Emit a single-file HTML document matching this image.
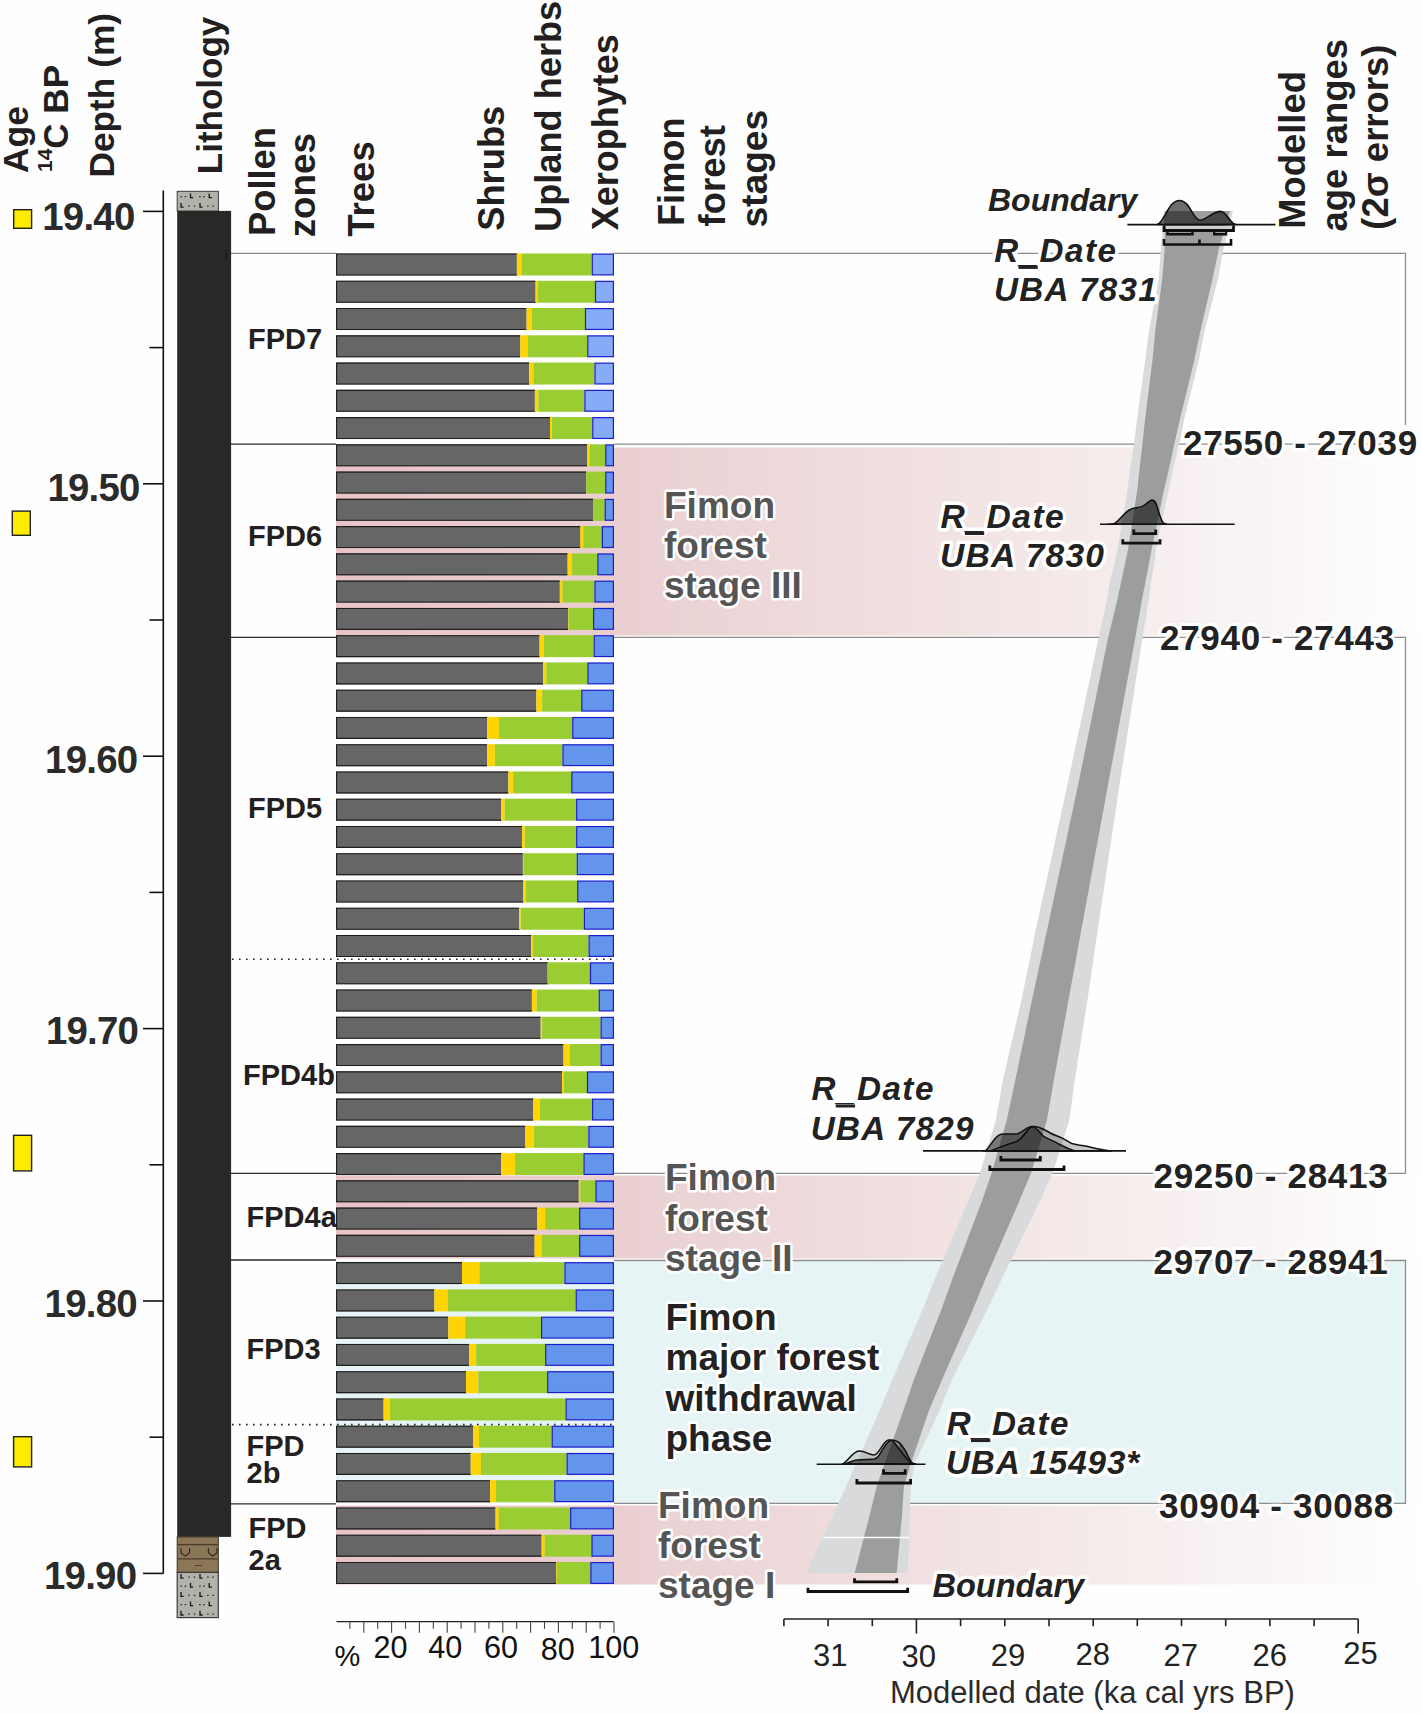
<!DOCTYPE html><html><head><meta charset="utf-8"><title>Fimon pollen diagram</title>
<style>html,body{margin:0;padding:0;background:#fff;}svg{display:block;}text{font-family:"Liberation Sans", sans-serif;}</style></head><body>
<svg width="1422" height="1713" viewBox="0 0 1422 1713">
<defs><linearGradient id="pk" gradientUnits="userSpaceOnUse" x1="336" y1="0" x2="1422" y2="0"><stop offset="0" stop-color="#e9c3c8"/><stop offset="0.26" stop-color="#eacfd1"/><stop offset="0.61" stop-color="#f3e5e5"/><stop offset="0.80" stop-color="#f8f1f1"/><stop offset="0.89" stop-color="#fbf7f7"/><stop offset="0.98" stop-color="#fefdfd"/><stop offset="1" stop-color="#ffffff"/></linearGradient></defs>
<rect x="0" y="0" width="1422" height="1713" fill="#fefefe"/>
<rect x="336" y="447.5" width="1086" height="188" fill="url(#pk)"/>
<rect x="336" y="1175.5" width="1086" height="83" fill="url(#pk)"/>
<rect x="336" y="1261.5" width="1069" height="241.5" fill="#e6f4f5"/>
<rect x="336" y="1505.5" width="1086" height="79" fill="url(#pk)"/>
<line x1="231" y1="253.4" x2="336" y2="253.4" stroke="#8a8a8a" stroke-width="1.3"/>
<line x1="231" y1="444.2" x2="336" y2="444.2" stroke="#2a2a2a" stroke-width="1.3"/>
<line x1="231" y1="637.3" x2="336" y2="637.3" stroke="#2a2a2a" stroke-width="1.3"/>
<line x1="231" y1="1173.4" x2="336" y2="1173.4" stroke="#2a2a2a" stroke-width="1.3"/>
<line x1="231" y1="1260.0" x2="336" y2="1260.0" stroke="#2a2a2a" stroke-width="1.3"/>
<line x1="231" y1="1503.8" x2="336" y2="1503.8" stroke="#2a2a2a" stroke-width="1.3"/>
<polyline points="614,253.4 1405.5,253.4 1405.5,425" fill="none" stroke="#8c8c8c" stroke-width="1.3"/>
<line x1="614" y1="444.2" x2="1405" y2="444.2" stroke="#8c8c8c" stroke-width="1.3"/>
<polyline points="614,637.3 1405.5,637.3 1405.5,1173.4 614,1173.4" fill="none" stroke="#8c8c8c" stroke-width="1.3"/>
<polyline points="614,1260.5 1405.5,1260.5 1405.5,1503.3 614,1503.3" fill="none" stroke="#8c8c8c" stroke-width="1.3"/>
<line x1="232" y1="959.3" x2="612" y2="959.3" stroke="#222" stroke-width="1.6" stroke-dasharray="1.6,5.4"/>
<line x1="232" y1="1424.6" x2="612" y2="1424.6" stroke="#222" stroke-width="1.6" stroke-dasharray="1.6,5.4"/>
<rect x="336.0" y="253.50" width="180.9" height="22.0" fill="#666"/>
<path d="M516.9,254.05 H336.6 V274.95 H516.9" fill="none" stroke="#1e1e1e" stroke-width="1.1"/>
<rect x="516.9" y="253.50" width="4.5" height="22.0" fill="#ffd400"/>
<rect x="521.4" y="253.50" width="70.4" height="22.0" fill="#9acd32"/>
<rect x="592.3" y="254.10" width="21.1" height="20.8" fill="#86acf8" stroke="#1c1ccc" stroke-width="1.2"/>
<rect x="336.0" y="280.76" width="199.6" height="22.0" fill="#666"/>
<path d="M535.6,281.31 H336.6 V302.21 H535.6" fill="none" stroke="#1e1e1e" stroke-width="1.1"/>
<rect x="535.6" y="280.76" width="2.2" height="22.0" fill="#ffd400"/>
<rect x="537.8" y="280.76" width="57.2" height="22.0" fill="#9acd32"/>
<rect x="595.5" y="281.36" width="17.9" height="20.8" fill="#86acf8" stroke="#1c1ccc" stroke-width="1.2"/>
<rect x="336.0" y="308.02" width="190.6" height="22.0" fill="#666"/>
<path d="M526.6,308.57 H336.6 V329.47 H526.6" fill="none" stroke="#1e1e1e" stroke-width="1.1"/>
<rect x="526.6" y="308.02" width="5.4" height="22.0" fill="#ffd400"/>
<rect x="532.0" y="308.02" width="53.0" height="22.0" fill="#9acd32"/>
<rect x="585.5" y="308.62" width="27.9" height="20.8" fill="#86acf8" stroke="#1c1ccc" stroke-width="1.2"/>
<rect x="336.0" y="335.28" width="184.3" height="22.0" fill="#666"/>
<path d="M520.3,335.83 H336.6 V356.73 H520.3" fill="none" stroke="#1e1e1e" stroke-width="1.1"/>
<rect x="520.3" y="335.28" width="7.2" height="22.0" fill="#ffd400"/>
<rect x="527.5" y="335.28" width="59.8" height="22.0" fill="#9acd32"/>
<rect x="587.8" y="335.88" width="25.6" height="20.8" fill="#86acf8" stroke="#1c1ccc" stroke-width="1.2"/>
<rect x="336.0" y="362.54" width="193.3" height="22.0" fill="#666"/>
<path d="M529.3,363.09 H336.6 V383.99 H529.3" fill="none" stroke="#1e1e1e" stroke-width="1.1"/>
<rect x="529.3" y="362.54" width="4.0" height="22.0" fill="#ffd400"/>
<rect x="533.3" y="362.54" width="61.2" height="22.0" fill="#9acd32"/>
<rect x="595.0" y="363.14" width="18.4" height="20.8" fill="#86acf8" stroke="#1c1ccc" stroke-width="1.2"/>
<rect x="336.0" y="389.80" width="198.9" height="22.0" fill="#666"/>
<path d="M534.9,390.35 H336.6 V411.25 H534.9" fill="none" stroke="#1e1e1e" stroke-width="1.1"/>
<rect x="534.9" y="389.80" width="3.4" height="22.0" fill="#ffd400"/>
<rect x="538.3" y="389.80" width="46.1" height="22.0" fill="#9acd32"/>
<rect x="584.9" y="390.40" width="28.5" height="20.8" fill="#86acf8" stroke="#1c1ccc" stroke-width="1.2"/>
<rect x="336.0" y="417.06" width="214.0" height="22.0" fill="#666"/>
<path d="M550.0,417.61 H336.6 V438.51 H550.0" fill="none" stroke="#1e1e1e" stroke-width="1.1"/>
<rect x="550.0" y="417.06" width="1.8" height="22.0" fill="#ffd400"/>
<rect x="551.8" y="417.06" width="40.5" height="22.0" fill="#9acd32"/>
<rect x="592.8" y="417.66" width="20.6" height="20.8" fill="#86acf8" stroke="#1c1ccc" stroke-width="1.2"/>
<rect x="336.0" y="444.32" width="251.0" height="22.0" fill="#666"/>
<path d="M587.0,444.87 H336.6 V465.77 H587.0" fill="none" stroke="#1e1e1e" stroke-width="1.1"/>
<rect x="587.0" y="444.32" width="2.6" height="22.0" fill="#ffd400"/>
<rect x="589.6" y="444.32" width="15.7" height="22.0" fill="#9acd32"/>
<rect x="605.8" y="444.92" width="7.6" height="20.8" fill="#6495ed" stroke="#1c1ccc" stroke-width="1.2"/>
<rect x="336.0" y="471.58" width="250.0" height="22.0" fill="#666"/>
<path d="M586.0,472.13 H336.6 V493.03 H586.0" fill="none" stroke="#1e1e1e" stroke-width="1.1"/>
<rect x="586.2" y="471.58" width="19.1" height="22.0" fill="#9acd32"/>
<rect x="605.8" y="472.18" width="7.6" height="20.8" fill="#6495ed" stroke="#1c1ccc" stroke-width="1.2"/>
<rect x="336.0" y="498.84" width="257.1" height="22.0" fill="#666"/>
<path d="M593.1,499.39 H336.6 V520.29 H593.1" fill="none" stroke="#1e1e1e" stroke-width="1.1"/>
<rect x="593.1" y="498.84" width="11.6" height="22.0" fill="#9acd32"/>
<rect x="605.2" y="499.44" width="8.2" height="20.8" fill="#6495ed" stroke="#1c1ccc" stroke-width="1.2"/>
<rect x="336.0" y="526.10" width="244.4" height="22.0" fill="#666"/>
<path d="M580.4,526.65 H336.6 V547.55 H580.4" fill="none" stroke="#1e1e1e" stroke-width="1.1"/>
<rect x="580.4" y="526.10" width="3.1" height="22.0" fill="#ffd400"/>
<rect x="583.5" y="526.10" width="18.4" height="22.0" fill="#9acd32"/>
<rect x="602.4" y="526.70" width="11.0" height="20.8" fill="#6495ed" stroke="#1c1ccc" stroke-width="1.2"/>
<rect x="336.0" y="553.36" width="231.6" height="22.0" fill="#666"/>
<path d="M567.6,553.91 H336.6 V574.81 H567.6" fill="none" stroke="#1e1e1e" stroke-width="1.1"/>
<rect x="567.6" y="553.36" width="4.5" height="22.0" fill="#ffd400"/>
<rect x="572.1" y="553.36" width="25.3" height="22.0" fill="#9acd32"/>
<rect x="597.9" y="553.96" width="15.5" height="20.8" fill="#6495ed" stroke="#1c1ccc" stroke-width="1.2"/>
<rect x="336.0" y="580.62" width="223.8" height="22.0" fill="#666"/>
<path d="M559.8,581.17 H336.6 V602.07 H559.8" fill="none" stroke="#1e1e1e" stroke-width="1.1"/>
<rect x="559.8" y="580.62" width="2.7" height="22.0" fill="#ffd400"/>
<rect x="562.5" y="580.62" width="32.0" height="22.0" fill="#9acd32"/>
<rect x="595.0" y="581.22" width="18.4" height="20.8" fill="#6495ed" stroke="#1c1ccc" stroke-width="1.2"/>
<rect x="336.0" y="607.88" width="232.0" height="22.0" fill="#666"/>
<path d="M568.0,608.43 H336.6 V629.33 H568.0" fill="none" stroke="#1e1e1e" stroke-width="1.1"/>
<rect x="568.0" y="607.88" width="0.6" height="22.0" fill="#ffd400"/>
<rect x="568.6" y="607.88" width="24.5" height="22.0" fill="#9acd32"/>
<rect x="593.6" y="608.48" width="19.8" height="20.8" fill="#6495ed" stroke="#1c1ccc" stroke-width="1.2"/>
<rect x="336.0" y="635.14" width="203.6" height="22.0" fill="#666"/>
<path d="M539.6,635.69 H336.6 V656.59 H539.6" fill="none" stroke="#1e1e1e" stroke-width="1.1"/>
<rect x="539.6" y="635.14" width="4.1" height="22.0" fill="#ffd400"/>
<rect x="543.7" y="635.14" width="50.0" height="22.0" fill="#9acd32"/>
<rect x="594.2" y="635.74" width="19.2" height="20.8" fill="#6495ed" stroke="#1c1ccc" stroke-width="1.2"/>
<rect x="336.0" y="662.40" width="207.1" height="22.0" fill="#666"/>
<path d="M543.1,662.95 H336.6 V683.85 H543.1" fill="none" stroke="#1e1e1e" stroke-width="1.1"/>
<rect x="543.1" y="662.40" width="3.1" height="22.0" fill="#ffd400"/>
<rect x="546.2" y="662.40" width="41.2" height="22.0" fill="#9acd32"/>
<rect x="587.9" y="663.00" width="25.5" height="20.8" fill="#6495ed" stroke="#1c1ccc" stroke-width="1.2"/>
<rect x="336.0" y="689.66" width="200.4" height="22.0" fill="#666"/>
<path d="M536.4,690.21 H336.6 V711.11 H536.4" fill="none" stroke="#1e1e1e" stroke-width="1.1"/>
<rect x="536.4" y="689.66" width="5.7" height="22.0" fill="#ffd400"/>
<rect x="542.1" y="689.66" width="39.2" height="22.0" fill="#9acd32"/>
<rect x="581.8" y="690.26" width="31.6" height="20.8" fill="#6495ed" stroke="#1c1ccc" stroke-width="1.2"/>
<rect x="336.0" y="716.92" width="151.0" height="22.0" fill="#666"/>
<path d="M487.0,717.47 H336.6 V738.37 H487.0" fill="none" stroke="#1e1e1e" stroke-width="1.1"/>
<rect x="487.0" y="716.92" width="11.9" height="22.0" fill="#ffd400"/>
<rect x="498.9" y="716.92" width="73.4" height="22.0" fill="#9acd32"/>
<rect x="572.8" y="717.52" width="40.6" height="20.8" fill="#6495ed" stroke="#1c1ccc" stroke-width="1.2"/>
<rect x="336.0" y="744.18" width="151.0" height="22.0" fill="#666"/>
<path d="M487.0,744.73 H336.6 V765.63 H487.0" fill="none" stroke="#1e1e1e" stroke-width="1.1"/>
<rect x="487.0" y="744.18" width="7.8" height="22.0" fill="#ffd400"/>
<rect x="494.8" y="744.18" width="67.7" height="22.0" fill="#9acd32"/>
<rect x="563.0" y="744.78" width="50.4" height="20.8" fill="#6495ed" stroke="#1c1ccc" stroke-width="1.2"/>
<rect x="336.0" y="771.44" width="172.4" height="22.0" fill="#666"/>
<path d="M508.4,771.99 H336.6 V792.89 H508.4" fill="none" stroke="#1e1e1e" stroke-width="1.1"/>
<rect x="508.4" y="771.44" width="4.7" height="22.0" fill="#ffd400"/>
<rect x="513.1" y="771.44" width="58.2" height="22.0" fill="#9acd32"/>
<rect x="571.8" y="772.04" width="41.6" height="20.8" fill="#6495ed" stroke="#1c1ccc" stroke-width="1.2"/>
<rect x="336.0" y="798.70" width="165.3" height="22.0" fill="#666"/>
<path d="M501.3,799.25 H336.6 V820.15 H501.3" fill="none" stroke="#1e1e1e" stroke-width="1.1"/>
<rect x="501.3" y="798.70" width="3.3" height="22.0" fill="#ffd400"/>
<rect x="504.6" y="798.70" width="71.6" height="22.0" fill="#9acd32"/>
<rect x="576.7" y="799.30" width="36.7" height="20.8" fill="#6495ed" stroke="#1c1ccc" stroke-width="1.2"/>
<rect x="336.0" y="825.96" width="186.1" height="22.0" fill="#666"/>
<path d="M522.1,826.51 H336.6 V847.41 H522.1" fill="none" stroke="#1e1e1e" stroke-width="1.1"/>
<rect x="522.1" y="825.96" width="2.7" height="22.0" fill="#ffd400"/>
<rect x="524.8" y="825.96" width="51.4" height="22.0" fill="#9acd32"/>
<rect x="576.7" y="826.56" width="36.7" height="20.8" fill="#6495ed" stroke="#1c1ccc" stroke-width="1.2"/>
<rect x="336.0" y="853.22" width="186.9" height="22.0" fill="#666"/>
<path d="M522.9,853.77 H336.6 V874.67 H522.9" fill="none" stroke="#1e1e1e" stroke-width="1.1"/>
<rect x="522.9" y="853.22" width="0.4" height="22.0" fill="#ffd400"/>
<rect x="523.3" y="853.22" width="53.5" height="22.0" fill="#9acd32"/>
<rect x="577.3" y="853.82" width="36.1" height="20.8" fill="#6495ed" stroke="#1c1ccc" stroke-width="1.2"/>
<rect x="336.0" y="880.48" width="187.3" height="22.0" fill="#666"/>
<path d="M523.3,881.03 H336.6 V901.93 H523.3" fill="none" stroke="#1e1e1e" stroke-width="1.1"/>
<rect x="523.3" y="880.48" width="2.5" height="22.0" fill="#ffd400"/>
<rect x="525.8" y="880.48" width="51.4" height="22.0" fill="#9acd32"/>
<rect x="577.7" y="881.08" width="35.7" height="20.8" fill="#6495ed" stroke="#1c1ccc" stroke-width="1.2"/>
<rect x="336.0" y="907.74" width="183.3" height="22.0" fill="#666"/>
<path d="M519.3,908.29 H336.6 V929.19 H519.3" fill="none" stroke="#1e1e1e" stroke-width="1.1"/>
<rect x="519.3" y="907.74" width="1.4" height="22.0" fill="#ffd400"/>
<rect x="520.7" y="907.74" width="63.2" height="22.0" fill="#9acd32"/>
<rect x="584.4" y="908.34" width="29.0" height="20.8" fill="#6495ed" stroke="#1c1ccc" stroke-width="1.2"/>
<rect x="336.0" y="935.00" width="195.3" height="22.0" fill="#666"/>
<path d="M531.3,935.55 H336.6 V956.45 H531.3" fill="none" stroke="#1e1e1e" stroke-width="1.1"/>
<rect x="531.3" y="935.00" width="1.6" height="22.0" fill="#ffd400"/>
<rect x="532.9" y="935.00" width="55.7" height="22.0" fill="#9acd32"/>
<rect x="589.1" y="935.60" width="24.3" height="20.8" fill="#6495ed" stroke="#1c1ccc" stroke-width="1.2"/>
<rect x="336.0" y="962.26" width="211.6" height="22.0" fill="#666"/>
<path d="M547.6,962.81 H336.6 V983.71 H547.6" fill="none" stroke="#1e1e1e" stroke-width="1.1"/>
<rect x="547.8" y="962.26" width="42.2" height="22.0" fill="#9acd32"/>
<rect x="590.5" y="962.86" width="22.9" height="20.8" fill="#6495ed" stroke="#1c1ccc" stroke-width="1.2"/>
<rect x="336.0" y="989.52" width="195.9" height="22.0" fill="#666"/>
<path d="M531.9,990.07 H336.6 V1010.97 H531.9" fill="none" stroke="#1e1e1e" stroke-width="1.1"/>
<rect x="531.9" y="989.52" width="4.7" height="22.0" fill="#ffd400"/>
<rect x="536.6" y="989.52" width="62.2" height="22.0" fill="#9acd32"/>
<rect x="599.3" y="990.12" width="14.1" height="20.8" fill="#6495ed" stroke="#1c1ccc" stroke-width="1.2"/>
<rect x="336.0" y="1016.78" width="204.7" height="22.0" fill="#666"/>
<path d="M540.7,1017.33 H336.6 V1038.23 H540.7" fill="none" stroke="#1e1e1e" stroke-width="1.1"/>
<rect x="540.7" y="1016.78" width="1.4" height="22.0" fill="#ffd400"/>
<rect x="542.1" y="1016.78" width="58.5" height="22.0" fill="#9acd32"/>
<rect x="601.1" y="1017.38" width="12.3" height="20.8" fill="#6495ed" stroke="#1c1ccc" stroke-width="1.2"/>
<rect x="336.0" y="1044.04" width="227.5" height="22.0" fill="#666"/>
<path d="M563.5,1044.59 H336.6 V1065.49 H563.5" fill="none" stroke="#1e1e1e" stroke-width="1.1"/>
<rect x="563.5" y="1044.04" width="6.1" height="22.0" fill="#ffd400"/>
<rect x="569.6" y="1044.04" width="31.0" height="22.0" fill="#9acd32"/>
<rect x="601.1" y="1044.64" width="12.3" height="20.8" fill="#6495ed" stroke="#1c1ccc" stroke-width="1.2"/>
<rect x="336.0" y="1071.30" width="226.1" height="22.0" fill="#666"/>
<path d="M562.1,1071.85 H336.6 V1092.75 H562.1" fill="none" stroke="#1e1e1e" stroke-width="1.1"/>
<rect x="562.1" y="1071.30" width="1.4" height="22.0" fill="#ffd400"/>
<rect x="563.5" y="1071.30" width="23.5" height="22.0" fill="#9acd32"/>
<rect x="587.5" y="1071.90" width="25.9" height="20.8" fill="#6495ed" stroke="#1c1ccc" stroke-width="1.2"/>
<rect x="336.0" y="1098.56" width="197.3" height="22.0" fill="#666"/>
<path d="M533.3,1099.11 H336.6 V1120.01 H533.3" fill="none" stroke="#1e1e1e" stroke-width="1.1"/>
<rect x="533.3" y="1098.56" width="6.7" height="22.0" fill="#ffd400"/>
<rect x="540.0" y="1098.56" width="52.1" height="22.0" fill="#9acd32"/>
<rect x="592.6" y="1099.16" width="20.8" height="20.8" fill="#6495ed" stroke="#1c1ccc" stroke-width="1.2"/>
<rect x="336.0" y="1125.82" width="189.4" height="22.0" fill="#666"/>
<path d="M525.4,1126.37 H336.6 V1147.27 H525.4" fill="none" stroke="#1e1e1e" stroke-width="1.1"/>
<rect x="525.4" y="1125.82" width="8.5" height="22.0" fill="#ffd400"/>
<rect x="533.9" y="1125.82" width="54.5" height="22.0" fill="#9acd32"/>
<rect x="588.9" y="1126.42" width="24.5" height="20.8" fill="#6495ed" stroke="#1c1ccc" stroke-width="1.2"/>
<rect x="336.0" y="1153.08" width="165.3" height="22.0" fill="#666"/>
<path d="M501.3,1153.63 H336.6 V1174.53 H501.3" fill="none" stroke="#1e1e1e" stroke-width="1.1"/>
<rect x="501.3" y="1153.08" width="13.7" height="22.0" fill="#ffd400"/>
<rect x="515.0" y="1153.08" width="68.5" height="22.0" fill="#9acd32"/>
<rect x="584.0" y="1153.68" width="29.4" height="20.8" fill="#6495ed" stroke="#1c1ccc" stroke-width="1.2"/>
<rect x="336.0" y="1180.34" width="242.8" height="22.0" fill="#666"/>
<path d="M578.8,1180.89 H336.6 V1201.79 H578.8" fill="none" stroke="#1e1e1e" stroke-width="1.1"/>
<rect x="578.8" y="1180.34" width="1.6" height="22.0" fill="#ffd400"/>
<rect x="580.4" y="1180.34" width="15.1" height="22.0" fill="#9acd32"/>
<rect x="596.0" y="1180.94" width="17.4" height="20.8" fill="#6495ed" stroke="#1c1ccc" stroke-width="1.2"/>
<rect x="336.0" y="1207.60" width="201.0" height="22.0" fill="#666"/>
<path d="M537.0,1208.15 H336.6 V1229.05 H537.0" fill="none" stroke="#1e1e1e" stroke-width="1.1"/>
<rect x="537.0" y="1207.60" width="8.2" height="22.0" fill="#ffd400"/>
<rect x="545.2" y="1207.60" width="34.0" height="22.0" fill="#9acd32"/>
<rect x="579.7" y="1208.20" width="33.7" height="20.8" fill="#6495ed" stroke="#1c1ccc" stroke-width="1.2"/>
<rect x="336.0" y="1234.86" width="198.6" height="22.0" fill="#666"/>
<path d="M534.6,1235.41 H336.6 V1256.31 H534.6" fill="none" stroke="#1e1e1e" stroke-width="1.1"/>
<rect x="534.6" y="1234.86" width="7.1" height="22.0" fill="#ffd400"/>
<rect x="541.7" y="1234.86" width="37.5" height="22.0" fill="#9acd32"/>
<rect x="579.7" y="1235.46" width="33.7" height="20.8" fill="#6495ed" stroke="#1c1ccc" stroke-width="1.2"/>
<rect x="336.0" y="1262.12" width="126.0" height="22.0" fill="#666"/>
<path d="M462.0,1262.67 H336.6 V1283.57 H462.0" fill="none" stroke="#1e1e1e" stroke-width="1.1"/>
<rect x="462.0" y="1262.12" width="17.3" height="22.0" fill="#ffd400"/>
<rect x="479.3" y="1262.12" width="85.2" height="22.0" fill="#9acd32"/>
<rect x="565.0" y="1262.72" width="48.4" height="20.8" fill="#6495ed" stroke="#1c1ccc" stroke-width="1.2"/>
<rect x="336.0" y="1289.38" width="98.4" height="22.0" fill="#666"/>
<path d="M434.4,1289.93 H336.6 V1310.83 H434.4" fill="none" stroke="#1e1e1e" stroke-width="1.1"/>
<rect x="434.4" y="1289.38" width="13.3" height="22.0" fill="#ffd400"/>
<rect x="447.7" y="1289.38" width="128.0" height="22.0" fill="#9acd32"/>
<rect x="576.2" y="1289.98" width="37.2" height="20.8" fill="#6495ed" stroke="#1c1ccc" stroke-width="1.2"/>
<rect x="336.0" y="1316.64" width="112.3" height="22.0" fill="#666"/>
<path d="M448.3,1317.19 H336.6 V1338.09 H448.3" fill="none" stroke="#1e1e1e" stroke-width="1.1"/>
<rect x="448.3" y="1316.64" width="16.9" height="22.0" fill="#ffd400"/>
<rect x="465.2" y="1316.64" width="75.9" height="22.0" fill="#9acd32"/>
<rect x="541.6" y="1317.24" width="71.8" height="20.8" fill="#6495ed" stroke="#1c1ccc" stroke-width="1.2"/>
<rect x="336.0" y="1343.90" width="133.1" height="22.0" fill="#666"/>
<path d="M469.1,1344.45 H336.6 V1365.35 H469.1" fill="none" stroke="#1e1e1e" stroke-width="1.1"/>
<rect x="469.1" y="1343.90" width="7.1" height="22.0" fill="#ffd400"/>
<rect x="476.2" y="1343.90" width="69.0" height="22.0" fill="#9acd32"/>
<rect x="545.7" y="1344.50" width="67.7" height="20.8" fill="#6495ed" stroke="#1c1ccc" stroke-width="1.2"/>
<rect x="336.0" y="1371.16" width="130.0" height="22.0" fill="#666"/>
<path d="M466.0,1371.71 H336.6 V1392.61 H466.0" fill="none" stroke="#1e1e1e" stroke-width="1.1"/>
<rect x="466.0" y="1371.16" width="12.3" height="22.0" fill="#ffd400"/>
<rect x="478.3" y="1371.16" width="68.9" height="22.0" fill="#9acd32"/>
<rect x="547.7" y="1371.76" width="65.7" height="20.8" fill="#6495ed" stroke="#1c1ccc" stroke-width="1.2"/>
<rect x="336.0" y="1398.42" width="47.6" height="22.0" fill="#666"/>
<path d="M383.6,1398.97 H336.6 V1419.87 H383.6" fill="none" stroke="#1e1e1e" stroke-width="1.1"/>
<rect x="383.6" y="1398.42" width="6.2" height="22.0" fill="#ffd400"/>
<rect x="389.8" y="1398.42" width="175.8" height="22.0" fill="#9acd32"/>
<rect x="566.1" y="1399.02" width="47.3" height="20.8" fill="#6495ed" stroke="#1c1ccc" stroke-width="1.2"/>
<rect x="336.0" y="1425.68" width="137.2" height="22.0" fill="#666"/>
<path d="M473.2,1426.23 H336.6 V1447.13 H473.2" fill="none" stroke="#1e1e1e" stroke-width="1.1"/>
<rect x="473.2" y="1425.68" width="5.7" height="22.0" fill="#ffd400"/>
<rect x="478.9" y="1425.68" width="72.8" height="22.0" fill="#9acd32"/>
<rect x="552.2" y="1426.28" width="61.2" height="20.8" fill="#6495ed" stroke="#1c1ccc" stroke-width="1.2"/>
<rect x="336.0" y="1452.94" width="134.7" height="22.0" fill="#666"/>
<path d="M470.7,1453.49 H336.6 V1474.39 H470.7" fill="none" stroke="#1e1e1e" stroke-width="1.1"/>
<rect x="470.7" y="1452.94" width="10.2" height="22.0" fill="#ffd400"/>
<rect x="480.9" y="1452.94" width="85.7" height="22.0" fill="#9acd32"/>
<rect x="567.1" y="1453.54" width="46.3" height="20.8" fill="#6495ed" stroke="#1c1ccc" stroke-width="1.2"/>
<rect x="336.0" y="1480.20" width="154.1" height="22.0" fill="#666"/>
<path d="M490.1,1480.75 H336.6 V1501.65 H490.1" fill="none" stroke="#1e1e1e" stroke-width="1.1"/>
<rect x="490.1" y="1480.20" width="5.7" height="22.0" fill="#ffd400"/>
<rect x="495.8" y="1480.20" width="58.5" height="22.0" fill="#9acd32"/>
<rect x="554.8" y="1480.80" width="58.6" height="20.8" fill="#6495ed" stroke="#1c1ccc" stroke-width="1.2"/>
<rect x="336.0" y="1507.46" width="159.5" height="22.0" fill="#666"/>
<path d="M495.5,1508.01 H336.6 V1528.91 H495.5" fill="none" stroke="#1e1e1e" stroke-width="1.1"/>
<rect x="495.5" y="1507.46" width="3.2" height="22.0" fill="#ffd400"/>
<rect x="498.7" y="1507.46" width="71.5" height="22.0" fill="#9acd32"/>
<rect x="570.7" y="1508.06" width="42.7" height="20.8" fill="#6495ed" stroke="#1c1ccc" stroke-width="1.2"/>
<rect x="336.0" y="1534.72" width="205.6" height="22.0" fill="#666"/>
<path d="M541.6,1535.27 H336.6 V1556.17 H541.6" fill="none" stroke="#1e1e1e" stroke-width="1.1"/>
<rect x="541.6" y="1534.72" width="3.1" height="22.0" fill="#ffd400"/>
<rect x="544.7" y="1534.72" width="46.8" height="22.0" fill="#9acd32"/>
<rect x="592.0" y="1535.32" width="21.4" height="20.8" fill="#6495ed" stroke="#1c1ccc" stroke-width="1.2"/>
<rect x="336.0" y="1561.98" width="220.3" height="22.0" fill="#666"/>
<path d="M556.3,1562.53 H336.6 V1583.43 H556.3" fill="none" stroke="#1e1e1e" stroke-width="1.1"/>
<rect x="556.3" y="1561.98" width="0.7" height="22.0" fill="#ffd400"/>
<rect x="557.0" y="1561.98" width="33.4" height="22.0" fill="#9acd32"/>
<rect x="590.9" y="1562.58" width="22.5" height="20.8" fill="#6495ed" stroke="#1c1ccc" stroke-width="1.2"/>
<rect x="177.2" y="191.3" width="41.2" height="19.8" fill="#b2b2aa" stroke="#3a3a3a" stroke-width="1"/>
<rect x="177.2" y="210.9" width="53.9" height="1326" fill="#2a2826"/>
<rect x="177.2" y="1536.9" width="41.1" height="35.5" fill="#8b7658" stroke="#3a3226" stroke-width="1"/>
<line x1="177.5" y1="1544.7" x2="218" y2="1544.7" stroke="#4a3c2a" stroke-width="1.3"/>
<line x1="177.5" y1="1558.8" x2="218" y2="1558.8" stroke="#4a3c2a" stroke-width="1.3"/>
<path d="M181,1548.3 v4.5 l4.3,3.3 l4.3,-3.3 v-4.5 M208.4,1548.3 v4.5 l4.3,3.3 l4.3,-3.3 v-4.5" fill="none" stroke="#2a2218" stroke-width="1.1"/>
<line x1="195" y1="1565.5" x2="202" y2="1565.5" stroke="#4a3c2a" stroke-width="1"/>
<rect x="177.2" y="1572.4" width="41.1" height="45.2" fill="#b2b2aa" stroke="#3a3a3a" stroke-width="1.2"/>
<path d="M190.5,193.4 v4.2 h2.6 M209.2,193.4 v4.2 h2.6 M181.0,202.9 v4.2 h2.6 M200.0,202.9 v4.2 h2.6" fill="none" stroke="#151515" stroke-width="1.3"/><path d="M180.6,196.7 h1.4 M184.7,196.7 h1.4 M199.2,196.7 h1.4 M203.3,196.7 h1.4 M188.3,206.2 h1.4 M193.8,206.2 h1.4 M207.2,206.2 h1.4 M212.4,206.2 h1.4" fill="none" stroke="#222" stroke-width="1.3"/>
<path d="M181.0,1573.9 v4.2 h2.6 M200.0,1573.9 v4.2 h2.6 M190.5,1582.9 v4.2 h2.6 M209.2,1582.9 v4.2 h2.6 M181.0,1592.1 v4.2 h2.6 M200.0,1592.1 v4.2 h2.6 M190.5,1601.4 v4.2 h2.6 M209.2,1601.4 v4.2 h2.6 M181.0,1610.8 v4.2 h2.6 M200.0,1610.8 v4.2 h2.6" fill="none" stroke="#151515" stroke-width="1.3"/><path d="M188.3,1577.2 h1.4 M193.8,1577.2 h1.4 M207.2,1577.2 h1.4 M212.4,1577.2 h1.4 M180.6,1586.2 h1.4 M184.7,1586.2 h1.4 M199.2,1586.2 h1.4 M203.3,1586.2 h1.4 M188.3,1595.4 h1.4 M193.8,1595.4 h1.4 M207.2,1595.4 h1.4 M212.4,1595.4 h1.4 M180.6,1604.7 h1.4 M184.7,1604.7 h1.4 M199.2,1604.7 h1.4 M203.3,1604.7 h1.4 M188.3,1614.1 h1.4 M193.8,1614.1 h1.4 M207.2,1614.1 h1.4 M212.4,1614.1 h1.4" fill="none" stroke="#222" stroke-width="1.3"/>
<line x1="226.5" y1="253" x2="226.5" y2="259" stroke="#111" stroke-width="1"/>
<line x1="163.3" y1="190.5" x2="163.3" y2="1573.5" stroke="#111" stroke-width="1.6"/>
<line x1="143.0" y1="211.4" x2="163.3" y2="211.4" stroke="#111" stroke-width="1.6"/>
<line x1="149.5" y1="347.6" x2="163.3" y2="347.6" stroke="#111" stroke-width="1.6"/>
<line x1="143.0" y1="483.8" x2="163.3" y2="483.8" stroke="#111" stroke-width="1.6"/>
<line x1="149.5" y1="620.0" x2="163.3" y2="620.0" stroke="#111" stroke-width="1.6"/>
<line x1="143.0" y1="756.2" x2="163.3" y2="756.2" stroke="#111" stroke-width="1.6"/>
<line x1="149.5" y1="892.4" x2="163.3" y2="892.4" stroke="#111" stroke-width="1.6"/>
<line x1="143.0" y1="1028.6" x2="163.3" y2="1028.6" stroke="#111" stroke-width="1.6"/>
<line x1="149.5" y1="1164.8" x2="163.3" y2="1164.8" stroke="#111" stroke-width="1.6"/>
<line x1="143.0" y1="1301.0" x2="163.3" y2="1301.0" stroke="#111" stroke-width="1.6"/>
<line x1="149.5" y1="1437.2" x2="163.3" y2="1437.2" stroke="#111" stroke-width="1.6"/>
<line x1="143.0" y1="1573.4" x2="163.3" y2="1573.4" stroke="#111" stroke-width="1.6"/>
<text x="42.2" y="229.5" font-size="38.4" font-weight="bold" letter-spacing="-0.75" fill="#2b2b2b">19.40</text>
<text x="47.4" y="500.9" font-size="38.4" font-weight="bold" letter-spacing="-0.75" fill="#2b2b2b">19.50</text>
<text x="45.1" y="773.4" font-size="38.4" font-weight="bold" letter-spacing="-0.75" fill="#2b2b2b">19.60</text>
<text x="45.9" y="1044.3" font-size="38.4" font-weight="bold" letter-spacing="-0.75" fill="#2b2b2b">19.70</text>
<text x="44.6" y="1317.1" font-size="38.4" font-weight="bold" letter-spacing="-0.75" fill="#2b2b2b">19.80</text>
<text x="44.0" y="1588.5" font-size="38.4" font-weight="bold" letter-spacing="-0.75" fill="#2b2b2b">19.90</text>
<rect x="13.7" y="209.7" width="17.9" height="18.6" fill="#ffec00" stroke="#222" stroke-width="1.4"/>
<rect x="12.3" y="511.1" width="18.0" height="24.2" fill="#ffec00" stroke="#222" stroke-width="1.4"/>
<rect x="13.6" y="1135.3" width="18.0" height="35.6" fill="#ffec00" stroke="#222" stroke-width="1.4"/>
<rect x="13.6" y="1436.7" width="18.0" height="30.2" fill="#ffec00" stroke="#222" stroke-width="1.4"/>
<line x1="336.5" y1="1621.6" x2="613.6" y2="1621.6" stroke="#222" stroke-width="1.3"/>
<line x1="349.9" y1="1621.6" x2="349.9" y2="1628.8" stroke="#444" stroke-width="1.1"/>
<line x1="363.8" y1="1621.6" x2="363.8" y2="1632.7" stroke="#444" stroke-width="1.1"/>
<line x1="377.7" y1="1621.6" x2="377.7" y2="1628.8" stroke="#444" stroke-width="1.1"/>
<line x1="391.6" y1="1621.6" x2="391.6" y2="1632.7" stroke="#444" stroke-width="1.1"/>
<line x1="405.5" y1="1621.6" x2="405.5" y2="1628.8" stroke="#444" stroke-width="1.1"/>
<line x1="419.4" y1="1621.6" x2="419.4" y2="1632.7" stroke="#444" stroke-width="1.1"/>
<line x1="433.3" y1="1621.6" x2="433.3" y2="1628.8" stroke="#444" stroke-width="1.1"/>
<line x1="447.2" y1="1621.6" x2="447.2" y2="1632.7" stroke="#444" stroke-width="1.1"/>
<line x1="461.1" y1="1621.6" x2="461.1" y2="1628.8" stroke="#444" stroke-width="1.1"/>
<line x1="475.0" y1="1621.6" x2="475.0" y2="1632.7" stroke="#444" stroke-width="1.1"/>
<line x1="488.9" y1="1621.6" x2="488.9" y2="1628.8" stroke="#444" stroke-width="1.1"/>
<line x1="502.8" y1="1621.6" x2="502.8" y2="1632.7" stroke="#444" stroke-width="1.1"/>
<line x1="516.7" y1="1621.6" x2="516.7" y2="1628.8" stroke="#444" stroke-width="1.1"/>
<line x1="530.6" y1="1621.6" x2="530.6" y2="1632.7" stroke="#444" stroke-width="1.1"/>
<line x1="544.5" y1="1621.6" x2="544.5" y2="1628.8" stroke="#444" stroke-width="1.1"/>
<line x1="558.4" y1="1621.6" x2="558.4" y2="1632.7" stroke="#444" stroke-width="1.1"/>
<line x1="572.3" y1="1621.6" x2="572.3" y2="1628.8" stroke="#444" stroke-width="1.1"/>
<line x1="586.2" y1="1621.6" x2="586.2" y2="1632.7" stroke="#444" stroke-width="1.1"/>
<line x1="600.1" y1="1621.6" x2="600.1" y2="1628.8" stroke="#444" stroke-width="1.1"/>
<line x1="614.0" y1="1621.6" x2="614.0" y2="1632.7" stroke="#444" stroke-width="1.1"/>
<text x="390.6" y="1657.6" text-anchor="middle" font-size="30.6" fill="#111">20</text>
<text x="445.2" y="1657.6" text-anchor="middle" font-size="30.6" fill="#111">40</text>
<text x="500.9" y="1658.2" text-anchor="middle" font-size="30.6" fill="#111">60</text>
<text x="557.7" y="1659.5" text-anchor="middle" font-size="30.6" fill="#111">80</text>
<text x="613.8" y="1657.8" text-anchor="middle" font-size="30.6" fill="#111">100</text>
<text x="334.5" y="1666.4" font-size="29" fill="#111">%</text>
<polygon points="1164.0,211.1 1160.8,250.0 1158.7,280.0 1149.1,330.0 1145.3,360.0 1136.9,420.0 1134.5,440.0 1129.9,470.0 1127.4,490.0 1117.8,548.0 1114.3,565.0 1109.9,580.0 1107.1,600.0 1098.1,640.0 1068.4,780.0 1035.7,930.0 1021.5,1000.0 1002.9,1080.0 995.9,1120.0 979.9,1173.0 968.6,1200.0 934.3,1280.0 922.5,1310.0 892.2,1380.0 879.9,1410.0 846.3,1486.0 832.5,1516.0 806.1,1573.0 907.9,1573.0 909.8,1516.0 910.8,1486.0 914.5,1464.0 939.9,1410.0 951.7,1380.0 987.0,1310.0 1001.3,1280.0 1040.4,1200.0 1052.7,1173.0 1069.4,1120.0 1074.8,1080.0 1087.5,1000.0 1097.7,930.0 1120.3,780.0 1142.2,640.0 1148.6,600.0 1151.4,580.0 1154.3,565.0 1156.1,548.0 1168.6,490.0 1172.8,470.0 1180.2,440.0 1184.0,420.0 1198.9,360.0 1204.8,330.0 1217.8,280.0 1223.2,250.0 1233.0,211.1" fill="#d9dadb"/>
<polygon points="1165.0,211.1 1164.6,250.0 1162.1,280.0 1155.4,330.0 1152.5,360.0 1145.0,420.0 1142.9,440.0 1139.4,470.0 1137.3,490.0 1128.3,548.0 1124.8,565.0 1121.5,580.0 1117.3,600.0 1107.6,640.0 1079.1,780.0 1047.1,930.0 1032.0,1000.0 1015.3,1080.0 1006.8,1120.0 991.7,1173.0 982.3,1200.0 952.0,1280.0 941.2,1310.0 913.8,1380.0 903.5,1410.0 876.8,1486.0 869.4,1516.0 854.7,1573.0 896.7,1573.0 901.9,1516.0 903.9,1486.0 910.7,1464.0 929.1,1410.0 941.9,1380.0 972.7,1310.0 985.0,1280.0 1019.7,1200.0 1031.1,1173.0 1047.0,1120.0 1053.9,1080.0 1068.5,1000.0 1081.3,930.0 1108.9,780.0 1134.9,640.0 1141.9,600.0 1145.8,580.0 1148.7,565.0 1151.9,548.0 1164.0,490.0 1168.6,470.0 1175.2,440.0 1179.8,420.0 1194.3,360.0 1200.6,330.0 1212.3,280.0 1218.6,250.0 1230.0,211.1" fill="#9c9d9d"/>
<line x1="823" y1="1537.5" x2="909" y2="1537.5" stroke="#fff" stroke-width="1.6"/>
<clipPath id="cb"><rect x="1164" y="211.1" width="69" height="14"/></clipPath>
<path d="M1157,224.5 C1164,224 1168,200.5 1179.5,200.5 C1190,200.5 1193,220.2 1200,220.2 C1206,220.2 1213,211.4 1220.3,211.4 C1227,211.4 1230,224 1236,224.5 Z" fill="#6c6c6c"/>
<path d="M1157,224.5 C1164,224 1168,200.5 1179.5,200.5 C1190,200.5 1193,220.2 1200,220.2 C1206,220.2 1213,211.4 1220.3,211.4 C1227,211.4 1230,224 1236,224.5 Z" fill="#474747" clip-path="url(#cb)"/>
<path d="M1157,224.5 C1164,224 1168,200.5 1179.5,200.5 C1190,200.5 1193,220.2 1200,220.2 C1206,220.2 1213,211.4 1220.3,211.4 C1227,211.4 1230,224 1236,224.5 Z" fill="none" stroke="#111" stroke-width="1.6"/>
<line x1="1127.4" y1="224.6" x2="1275.5" y2="224.6" stroke="#111" stroke-width="1.8"/>
<path d="M1164,225.5 v5 h69.5 v-5" fill="none" stroke="#111" stroke-width="2.8"/>
<rect x="1166" y="226" width="66" height="3" fill="#d0d0d0"/>
<path d="M1167.5,231 v3.2 h25 v-3.2 M1214.2,231 v3.2 h11.8 v-3.2" fill="none" stroke="#111" stroke-width="2.4"/>
<path d="M1164,239 v5.5 h67 v-5.5 M1199.5,244 v-4.5" fill="none" stroke="#111" stroke-width="2.6"/>
<path d="M1108,524.3 C1111,524.2 1113,524 1114.5,523.4 C1118,521.5 1122,516 1127,511.6 C1130,509 1133,508 1136,507.8 C1140,507.6 1143,506.5 1146,504 C1148.5,502 1150,500.1 1152,500.1 C1155,500.1 1156,503 1157.5,508 C1159,513 1160.5,519 1163,522.5 C1164,523.6 1165,524.1 1167,524.3 Z" fill="#000" fill-opacity="0.56" stroke="#111" stroke-width="1.6"/>
<line x1="1100" y1="524.3" x2="1234.6" y2="524.3" stroke="#111" stroke-width="1.6"/>
<path d="M1133.8,529.4 v4.2 h22 v-4.2" fill="none" stroke="#111" stroke-width="2.8"/>
<path d="M1122.8,539.2 v3.9 h37.2 v-3.9" fill="none" stroke="#111" stroke-width="2.8"/>
<path d="M990.5,1150.9 C998,1148 1008,1144 1016.9,1141.4 C1024,1138 1028,1127 1032.7,1126.6 C1036,1126.3 1040,1127.5 1044,1129.5 C1048,1132 1053,1135 1060.2,1137.2 C1065,1139 1068,1142 1071.8,1143.5 C1077,1145 1080,1145.5 1085.5,1146.1 C1092,1147.3 1100,1149.8 1111.9,1150.9 Z" fill="#000" fill-opacity="0.22" stroke="#111" stroke-width="1.5"/>
<path d="M985,1150.9 C990,1148 994,1136 1001,1134.2 C1006,1133.5 1012,1134.4 1017,1133.8 C1022,1133 1027,1126.6 1031.7,1126.6 C1036,1126.6 1040,1133 1043.3,1136.1 C1048,1139 1052,1140.5 1056,1142.4 C1062,1145.5 1066,1148.5 1075,1150.9 Z" fill="#000" fill-opacity="0.45" stroke="#111" stroke-width="1.5"/>
<line x1="923" y1="1150.9" x2="1126" y2="1150.9" stroke="#111" stroke-width="1.6"/>
<path d="M1000.9,1156.1 v3.9 h39.4 v-3.9" fill="none" stroke="#111" stroke-width="2.8"/>
<path d="M989.8,1165.6 v3.9 h74.2 v-3.9" fill="none" stroke="#111" stroke-width="2.8"/>
<path d="M842.8,1464 C848,1461 853,1451.5 858.9,1451.1 C865,1450.7 869,1455 874.1,1454.9 C879,1454.8 883,1441 888.4,1440.1 C891,1439.8 896,1440 899.4,1442.7 C903,1446 904,1449 906.1,1452 C908,1456 910,1461 912,1462.5 C913.5,1463.5 915,1464 916.3,1464 Z" fill="#000" fill-opacity="0.12" stroke="#111" stroke-width="1.5"/>
<path d="M845.4,1464 C850,1462 853,1460.3 857.2,1460 C864,1459.5 869,1459.6 874.1,1459.1 C877,1458.5 878,1457 879.1,1455.3 C883,1449 887,1440.5 891,1440.5 C894,1440.5 896,1445 899.4,1449.4 C903,1454 905,1457 907.8,1459.5 C909.5,1461.5 910.5,1463 912,1464 Z" fill="#000" fill-opacity="0.5" stroke="#111" stroke-width="1.5"/>
<path d="M899,1442 C903,1446 904,1449 906.1,1452 C908,1456 910,1461 912,1463 L907.8,1459.5 C905,1457 903,1454 899.4,1449.4 Z" fill="#000" fill-opacity="0.35"/>
<line x1="816.7" y1="1464.2" x2="925.5" y2="1464.2" stroke="#111" stroke-width="1.6"/>
<path d="M883.5,1469.2 v4.1 h21.7 v-4.1" fill="none" stroke="#111" stroke-width="2.8"/>
<path d="M856.9,1478.9 v4.1 h53.7 v-4.1" fill="none" stroke="#111" stroke-width="2.8"/>
<path d="M854.5,1578.3 v3.6 h42.3 v-3.6" fill="none" stroke="#111" stroke-width="2.8"/>
<path d="M808,1587.7 v3.8 h99.6 v-3.8" fill="none" stroke="#111" stroke-width="2.8"/>
<line x1="783.9" y1="1619" x2="1358.2" y2="1619" stroke="#222" stroke-width="1.6"/>
<line x1="783.9" y1="1619" x2="783.9" y2="1626.2" stroke="#222" stroke-width="1.6"/>
<line x1="828.1" y1="1619" x2="828.1" y2="1626.2" stroke="#222" stroke-width="1.6"/>
<line x1="872.3" y1="1619" x2="872.3" y2="1626.2" stroke="#222" stroke-width="1.6"/>
<line x1="916.4" y1="1619" x2="916.4" y2="1633.6" stroke="#222" stroke-width="1.6"/>
<line x1="960.6" y1="1619" x2="960.6" y2="1626.2" stroke="#222" stroke-width="1.6"/>
<line x1="1004.8" y1="1619" x2="1004.8" y2="1626.2" stroke="#222" stroke-width="1.6"/>
<line x1="1049.0" y1="1619" x2="1049.0" y2="1626.2" stroke="#222" stroke-width="1.6"/>
<line x1="1093.2" y1="1619" x2="1093.2" y2="1626.2" stroke="#222" stroke-width="1.6"/>
<line x1="1137.3" y1="1619" x2="1137.3" y2="1626.2" stroke="#222" stroke-width="1.6"/>
<line x1="1181.5" y1="1619" x2="1181.5" y2="1626.2" stroke="#222" stroke-width="1.6"/>
<line x1="1225.7" y1="1619" x2="1225.7" y2="1626.2" stroke="#222" stroke-width="1.6"/>
<line x1="1269.9" y1="1619" x2="1269.9" y2="1626.2" stroke="#222" stroke-width="1.6"/>
<line x1="1314.1" y1="1619" x2="1314.1" y2="1626.2" stroke="#222" stroke-width="1.6"/>
<line x1="1358.2" y1="1619" x2="1358.2" y2="1633.6" stroke="#222" stroke-width="1.6"/>
<text x="830.3" y="1666.0" text-anchor="middle" font-size="31" fill="#222">31</text>
<text x="918.8" y="1666.8" text-anchor="middle" font-size="31" fill="#222">30</text>
<text x="1007.9" y="1665.8" text-anchor="middle" font-size="31" fill="#222">29</text>
<text x="1092.7" y="1665.0" text-anchor="middle" font-size="31" fill="#222">28</text>
<text x="1180.8" y="1666.4" text-anchor="middle" font-size="31" fill="#222">27</text>
<text x="1269.7" y="1665.6" text-anchor="middle" font-size="31" fill="#222">26</text>
<text x="1360.4" y="1663.6" text-anchor="middle" font-size="31" fill="#222">25</text>
<text x="890" y="1702.8" font-size="31" fill="#2a2a2a">Modelled date (ka cal yrs BP)</text>
<text transform="translate(28.0,173.2) rotate(-90)" font-size="35.6" font-weight="bold" fill="#231f20">Age</text>
<text transform="translate(68.4,172) rotate(-90)" font-size="35" font-weight="bold" fill="#231f20"><tspan font-size="21" dy="-16">14</tspan><tspan dy="16">C BP</tspan></text>
<text transform="translate(114.3,177.6) rotate(-90)" font-size="35.3" font-weight="bold" fill="#231f20">Depth (m)</text>
<text transform="translate(222.4,174.2) rotate(-90)" font-size="35.0" font-weight="bold" fill="#231f20">Lithology</text>
<text transform="translate(274.6,236.0) rotate(-90)" font-size="36.3" font-weight="bold" fill="#231f20">Pollen</text>
<text transform="translate(315.2,237.3) rotate(-90)" font-size="36.8" font-weight="bold" fill="#231f20">zones</text>
<text transform="translate(374.0,236.8) rotate(-90)" font-size="36.6" font-weight="bold" fill="#231f20">Trees</text>
<text transform="translate(504.1,230.8) rotate(-90)" font-size="36.3" font-weight="bold" fill="#231f20">Shrubs</text>
<text transform="translate(560.6,232.0) rotate(-90)" font-size="36.2" font-weight="bold" fill="#231f20">Upland herbs</text>
<text transform="translate(617.8,230.3) rotate(-90)" font-size="36.0" font-weight="bold" fill="#231f20">Xerophytes</text>
<text transform="translate(683.9,226.0) rotate(-90)" font-size="36.2" font-weight="bold" fill="#231f20">Fimon</text>
<text transform="translate(725.4,226.5) rotate(-90)" font-size="36.5" font-weight="bold" fill="#231f20">forest</text>
<text transform="translate(766.8,227.6) rotate(-90)" font-size="37.2" font-weight="bold" fill="#231f20">stages</text>
<text transform="translate(1305.0,228.8) rotate(-90)" font-size="36.4" font-weight="bold" fill="#231f20">Modelled</text>
<text transform="translate(1346.6,231.6) rotate(-90)" font-size="36.5" font-weight="bold" fill="#231f20">age ranges</text>
<text transform="translate(1388.2,229.7) rotate(-90)" font-size="36.5" font-weight="bold" fill="#231f20">(2σ errors)</text>
<text x="248.0" y="349.1" font-size="29" font-weight="bold" fill="#231f20">FPD7</text>
<text x="248.0" y="546.3" font-size="29" font-weight="bold" fill="#231f20">FPD6</text>
<text x="248.0" y="818.3" font-size="29" font-weight="bold" fill="#231f20">FPD5</text>
<text x="243.0" y="1084.8" font-size="29" font-weight="bold" fill="#231f20">FPD4b</text>
<text x="246.5" y="1226.5" font-size="29" font-weight="bold" fill="#231f20">FPD4a</text>
<text x="246.5" y="1358.6" font-size="29" font-weight="bold" fill="#231f20">FPD3</text>
<text x="246.5" y="1455.9" font-size="29" font-weight="bold" fill="#231f20">FPD</text>
<text x="246.5" y="1482.7" font-size="29" font-weight="bold" fill="#231f20">2b</text>
<text x="248.5" y="1538.0" font-size="29" font-weight="bold" fill="#231f20">FPD</text>
<text x="248.5" y="1569.7" font-size="29" font-weight="bold" fill="#231f20">2a</text>
<text x="664.0" y="517.5" font-size="37.0" font-weight="bold" font-style="normal" fill="#555555" letter-spacing="0.00" stroke="#fff" stroke-width="5.0" stroke-linejoin="round" paint-order="stroke">Fimon</text>
<text x="664.0" y="557.7" font-size="37.0" font-weight="bold" font-style="normal" fill="#555555" letter-spacing="0.00" stroke="#fff" stroke-width="5.0" stroke-linejoin="round" paint-order="stroke">forest</text>
<text x="664.0" y="597.9" font-size="37.0" font-weight="bold" font-style="normal" fill="#555555" letter-spacing="0.00" stroke="#fff" stroke-width="5.0" stroke-linejoin="round" paint-order="stroke">stage III</text>
<text x="665.0" y="1190.4" font-size="37.0" font-weight="bold" font-style="normal" fill="#555555" letter-spacing="0.00" stroke="#fff" stroke-width="5.0" stroke-linejoin="round" paint-order="stroke">Fimon</text>
<text x="665.0" y="1230.6" font-size="37.0" font-weight="bold" font-style="normal" fill="#555555" letter-spacing="0.00" stroke="#fff" stroke-width="5.0" stroke-linejoin="round" paint-order="stroke">forest</text>
<text x="665.0" y="1270.8" font-size="37.0" font-weight="bold" font-style="normal" fill="#555555" letter-spacing="0.00" stroke="#fff" stroke-width="5.0" stroke-linejoin="round" paint-order="stroke">stage II</text>
<text x="665.5" y="1330.2" font-size="37.0" font-weight="bold" font-style="normal" fill="#222" letter-spacing="0.00" stroke="#fff" stroke-width="5.0" stroke-linejoin="round" paint-order="stroke">Fimon</text>
<text x="665.5" y="1370.4" font-size="37.0" font-weight="bold" font-style="normal" fill="#222" letter-spacing="0.00" stroke="#fff" stroke-width="5.0" stroke-linejoin="round" paint-order="stroke">major forest</text>
<text x="665.5" y="1410.6" font-size="37.0" font-weight="bold" font-style="normal" fill="#222" letter-spacing="0.00" stroke="#fff" stroke-width="5.0" stroke-linejoin="round" paint-order="stroke">withdrawal</text>
<text x="665.5" y="1450.8" font-size="37.0" font-weight="bold" font-style="normal" fill="#222" letter-spacing="0.00" stroke="#fff" stroke-width="5.0" stroke-linejoin="round" paint-order="stroke">phase</text>
<text x="658.0" y="1517.9" font-size="37.0" font-weight="bold" font-style="normal" fill="#555555" letter-spacing="0.00" stroke="#fff" stroke-width="5.0" stroke-linejoin="round" paint-order="stroke">Fimon</text>
<text x="658.0" y="1558.1" font-size="37.0" font-weight="bold" font-style="normal" fill="#555555" letter-spacing="0.00" stroke="#fff" stroke-width="5.0" stroke-linejoin="round" paint-order="stroke">forest</text>
<text x="658.0" y="1598.3" font-size="37.0" font-weight="bold" font-style="normal" fill="#555555" letter-spacing="0.00" stroke="#fff" stroke-width="5.0" stroke-linejoin="round" paint-order="stroke">stage I</text>
<text x="988.0" y="211.4" font-size="32.0" font-weight="bold" font-style="italic" fill="#222" letter-spacing="0.00" stroke="#fff" stroke-width="7.0" stroke-linejoin="round" paint-order="stroke">Boundary</text>
<text x="994.2" y="261.6" font-size="33.2" font-weight="bold" font-style="italic" fill="#222" letter-spacing="1.50" stroke="#fff" stroke-width="7.0" stroke-linejoin="round" paint-order="stroke">R_Date</text>
<text x="994.0" y="301.0" font-size="33.2" font-weight="bold" font-style="italic" fill="#222" letter-spacing="1.30" stroke="#fff" stroke-width="7.0" stroke-linejoin="round" paint-order="stroke">UBA 7831</text>
<text x="940.6" y="527.7" font-size="33.6" font-weight="bold" font-style="italic" fill="#222" letter-spacing="1.50" stroke="#fff" stroke-width="7.0" stroke-linejoin="round" paint-order="stroke">R_Date</text>
<text x="940.0" y="567.4" font-size="33.6" font-weight="bold" font-style="italic" fill="#222" letter-spacing="1.20" stroke="#fff" stroke-width="7.0" stroke-linejoin="round" paint-order="stroke">UBA 7830</text>
<text x="811.5" y="1100.2" font-size="33.2" font-weight="bold" font-style="italic" fill="#222" letter-spacing="1.50" stroke="#fff" stroke-width="7.0" stroke-linejoin="round" paint-order="stroke">R_Date</text>
<text x="810.7" y="1139.6" font-size="33.2" font-weight="bold" font-style="italic" fill="#222" letter-spacing="1.30" stroke="#fff" stroke-width="7.0" stroke-linejoin="round" paint-order="stroke">UBA 7829</text>
<text x="946.7" y="1434.8" font-size="33.2" font-weight="bold" font-style="italic" fill="#222" letter-spacing="1.50" stroke="#fff" stroke-width="7.0" stroke-linejoin="round" paint-order="stroke">R_Date</text>
<text x="946.0" y="1474.1" font-size="33.2" font-weight="bold" font-style="italic" fill="#222" letter-spacing="0.90" stroke="#fff" stroke-width="7.0" stroke-linejoin="round" paint-order="stroke">UBA 15493*</text>
<rect x="1018.5" y="265.9" width="19.3" height="3.0" fill="#222"/>
<rect x="964.9" y="532.0" width="19.3" height="3.0" fill="#222"/>
<rect x="835.8" y="1104.5" width="19.3" height="3.0" fill="#222"/>
<rect x="971.0" y="1439.1" width="19.3" height="3.0" fill="#222"/>
<text x="932.5" y="1596.7" font-size="32.5" font-weight="bold" font-style="italic" fill="#222" letter-spacing="0.00" stroke="#fff" stroke-width="7.0" stroke-linejoin="round" paint-order="stroke">Boundary</text>
<text x="1183.0" y="455.2" font-size="35.0" font-weight="bold" font-style="normal" fill="#222" letter-spacing="0.70" stroke="#fff" stroke-width="6.0" stroke-linejoin="round" paint-order="stroke">27550 - 27039</text>
<text x="1160.0" y="650.0" font-size="35.0" font-weight="bold" font-style="normal" fill="#222" letter-spacing="0.70" stroke="#fff" stroke-width="6.0" stroke-linejoin="round" paint-order="stroke">27940 - 27443</text>
<text x="1153.5" y="1188.4" font-size="35.0" font-weight="bold" font-style="normal" fill="#222" letter-spacing="0.70" stroke="#fff" stroke-width="6.0" stroke-linejoin="round" paint-order="stroke">29250 - 28413</text>
<text x="1153.5" y="1274.2" font-size="35.0" font-weight="bold" font-style="normal" fill="#222" letter-spacing="0.70" stroke="#fff" stroke-width="6.0" stroke-linejoin="round" paint-order="stroke">29707 - 28941</text>
<text x="1159.0" y="1517.5" font-size="35.0" font-weight="bold" font-style="normal" fill="#222" letter-spacing="0.70" stroke="#fff" stroke-width="6.0" stroke-linejoin="round" paint-order="stroke">30904 - 30088</text>
</svg></body></html>
